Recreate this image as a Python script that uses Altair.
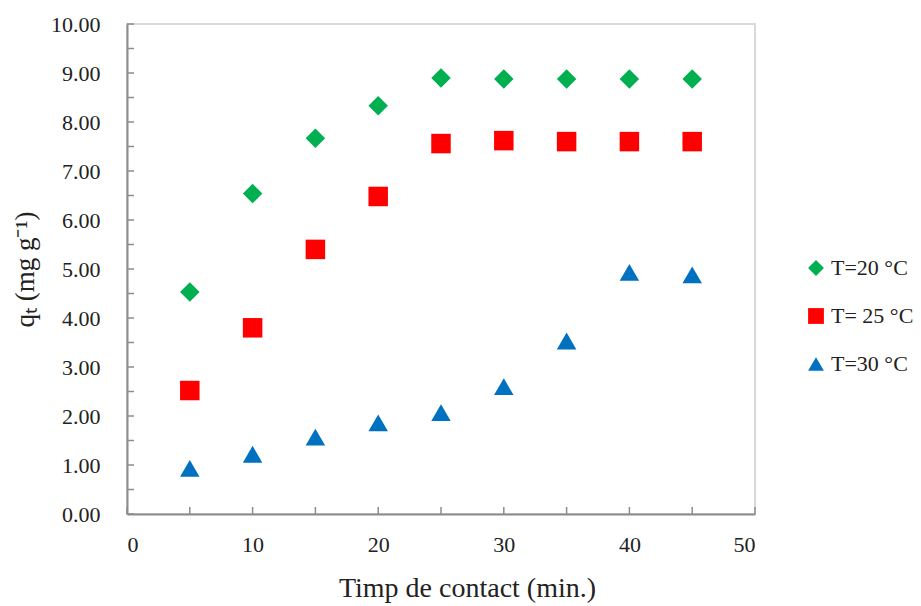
import altair as alt
import pandas as pd

# Contact times (min) and adsorbed amount q_t (mg/g) at three temperatures
times = [5, 10, 15, 20, 25, 30, 35, 40, 45]
q_20 = [4.53, 6.54, 7.67, 8.33, 8.90, 8.88, 8.88, 8.88, 8.88]
q_25 = [2.52, 3.80, 5.40, 6.48, 7.56, 7.62, 7.60, 7.60, 7.60]
q_30 = [0.93, 1.22, 1.57, 1.86, 2.07, 2.60, 3.53, 4.93, 4.88]

series = ["T=20 °C", "T= 25 °C", "T=30 °C"]
colors = ["#00b050", "#ff0000", "#0070c0"]
shapes = ["diamond", "square", "triangle-up"]

y_ticks = [i * 0.5 for i in range(21)]
x_ticks = [i * 5 for i in range(11)]

rows = []
for name, vals in zip(series, [q_20, q_25, q_30]):
    for t, q in zip(times, vals):
        rows.append({"t": t, "q": q, "serie": name})
df = pd.DataFrame(rows)

W, H = 628, 490
FONT = "Liberation Serif"
AXIS_GRAY = "#8c8c8c"
TEXT = "#222222"

x_scale = alt.Scale(domain=[0, 50], nice=False, zero=False)
y_scale = alt.Scale(domain=[0, 10], nice=False)

x_axis = alt.Axis(values=[0, 10, 20, 30, 40, 50], format="d",
                  title="Timp de contact (min.)",
                  ticks=False, tickSize=0, labelPadding=20,
                  grid=False, domainColor=AXIS_GRAY, domainWidth=2,
                  labelFont=FONT, labelFontSize=22, labelColor=TEXT,
                  titleFont=FONT, titleFontSize=28, titleFontWeight="normal",
                  titleColor=TEXT, titleX=340, titleY=74,
                  titleBaseline="middle", titleAlign="center")
y_axis = alt.Axis(values=list(range(11)), format=".2f",
                  title="qₜ (mg g⁻¹)",
                  ticks=False, tickSize=0, labelPadding=27,
                  grid=False, domainColor=AXIS_GRAY, domainWidth=2,
                  labelFont=FONT, labelFontSize=22, labelColor=TEXT,
                  titleFont=FONT, titleFontSize=27, titleFontWeight="normal",
                  titleColor=TEXT, titleX=-102, titleY=245,
                  titleBaseline="middle", titleAlign="center", titleAngle=-90)

points = alt.Chart(df).mark_point(filled=True, opacity=1, size=380).encode(
    x=alt.X("t:Q", scale=x_scale, axis=x_axis),
    y=alt.Y("q:Q", scale=y_scale, axis=y_axis),
    color=alt.Color("serie:N", scale=alt.Scale(domain=series, range=colors),
                    legend=alt.Legend(title=None, orient="none", legendX=678, legendY=233,
                                      labelFont=FONT, labelFontSize=22, labelColor=TEXT,
                                      symbolSize=250, symbolOpacity=1, rowPadding=26,
                                      labelOffset=4)),
    shape=alt.Shape("serie:N", scale=alt.Scale(domain=series, range=shapes), legend=None),
)

# Inward-pointing major and minor ticks
y_tick_df = pd.DataFrame({"q": y_ticks})
x_tick_df = pd.DataFrame({"t": x_ticks})

y_tick_marks = alt.Chart(y_tick_df).mark_rule(color=AXIS_GRAY, strokeWidth=1.5).encode(
    y=alt.Y("q:Q", scale=y_scale, axis=y_axis),
    x=alt.value(0), x2=alt.value(7),
)
x_tick_marks = alt.Chart(x_tick_df).mark_rule(color=AXIS_GRAY, strokeWidth=1.5).encode(
    x=alt.X("t:Q", scale=x_scale, axis=x_axis),
    y=alt.value(H), y2=alt.value(H - 7),
)

chart = alt.layer(points, y_tick_marks, x_tick_marks).properties(
    width=W, height=H,
    autosize=alt.AutoSizeParams(type="none"),
    padding={"left": 127, "top": 24, "right": 166, "bottom": 92},
    background="white",
).configure_view(stroke="#d9d9d9", strokeWidth=2)

chart.save("out.html", embed_options={"renderer": "svg", "actions": False})
